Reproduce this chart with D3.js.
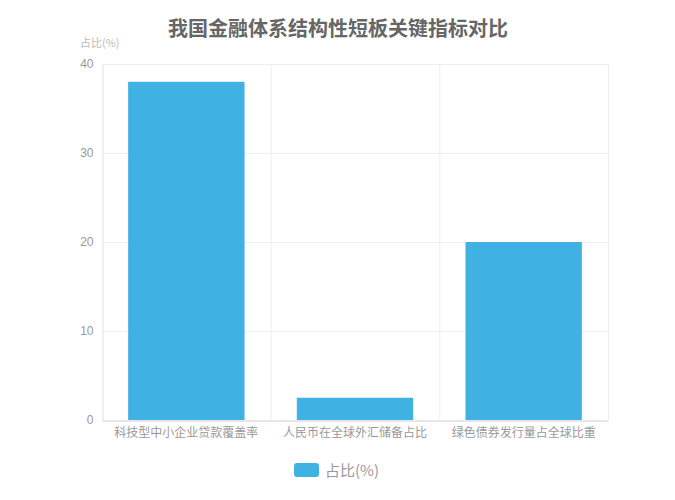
<!DOCTYPE html>
<html>
<head>
<meta charset="utf-8">
<script src="https://cdn.jsdelivr.net/npm/d3@7"></script>
<style>
  body { margin: 0; background: #fff; }
  text { font-family: "Noto Sans CJK SC", "Noto Sans", sans-serif; }
</style>
</head>
<body>
<div id="bar"></div>
<script>
const categories = ["科技型中小企业贷款覆盖率", "人民币在全球外汇储备占比", "绿色债券发行量占全球比重"];
const values = [38, 2.5, 20];
const yTicks = [0, 10, 20, 30, 40];
const seriesName = "占比(%)";
const title = "我国金融体系结构性短板关键指标对比";

const width = 675, height = 500,
    margin = ({ top: 64, right: 67, bottom: 80, left: 102 });

const data = categories.map((c, i) => ({ cat: c, val: values[i] }));

let svg = d3.select("#bar")
    .append("svg")
    .attr("width", width)
    .attr("height", height);

const x = d3.scaleBand()
    .domain(categories)
    .range([margin.left, width - margin.right])
    .padding(0);

const y = d3.scaleLinear()
    .domain([0, 40])
    .range([height - margin.bottom, margin.top]);

// horizontal grid
svg.append("g")
    .selectAll("line")
    .data(yTicks.slice(1))
    .join("line")
    .attr("x1", margin.left)
    .attr("x2", width - margin.right)
    .attr("y1", d => y(d) + 0.5)
    .attr("y2", d => y(d) + 0.5)
    .attr("stroke", "#eeeeee");

// vertical grid at category boundaries
svg.append("g")
    .selectAll("line")
    .data(categories.slice(1).map(c => x(c)).concat([width - margin.right]))
    .join("line")
    .attr("x1", d => d + 0.5)
    .attr("x2", d => d + 0.5)
    .attr("y1", margin.top)
    .attr("y2", height - margin.bottom)
    .attr("stroke", "#eeeeee");

// y axis
const yAxis = (g) => g
    .attr("transform", `translate(${margin.left + 0.5}, 0)`)
    .call(d3.axisLeft(y).tickValues(yTicks).tickSize(0).tickPadding(9))
    .call(g => g.select(".domain").attr("stroke", "#e0e0e0"))
    .call(g => g.selectAll("text").attr("fill", "#999").attr("font-size", 12)
        .style("font-family", "'Liberation Sans', Arial, sans-serif"));

svg.append("g").call(yAxis);

// x axis
const xAxis = (g) => g
    .attr("transform", `translate(0, ${height - margin.bottom + 0.5})`)
    .call(d3.axisBottom(x).tickSize(0).tickPadding(8))
    .call(g => g.select(".domain").attr("stroke", "#cccccc"))
    .call(g => g.selectAll("text").attr("fill", "#999").attr("font-size", 12));

svg.append("g").call(xAxis);

let bar = svg.selectAll(".bar")
    .data(data)
    .join("g")
    .attr("class", "bar");

bar.append("rect")
    .attr("fill", "#3fb1e3")
    .attr("x", d => x(d.cat) + x.bandwidth() * 0.155)
    .attr("width", x.bandwidth() * 0.69)
    .attr("y", d => y(d.val))
    .attr("height", d => y(0) - y(d.val));

// title
svg.append("text")
    .text(title)
    .attr("x", 338)
    .attr("y", 36)
    .attr("text-anchor", "middle")
    .attr("font-size", 20)
    .attr("font-weight", "bold")
    .attr("fill", "#666");

// y axis name
svg.append("text")
    .text(seriesName)
    .attr("x", margin.left - 22)
    .attr("y", 47)
    .attr("font-size", 11)
    .attr("fill", "#bbb");

// legend
const legend = svg.append("g").attr("transform", "translate(294, 463)");
legend.append("rect")
    .attr("width", 25)
    .attr("height", 14)
    .attr("rx", 3)
    .attr("fill", "#3fb1e3");
legend.append("text")
    .text(seriesName)
    .attr("x", 31)
    .attr("y", 12.5)
    .attr("font-size", 15)
    .attr("fill", "#999");
</script>
</body>
</html>
